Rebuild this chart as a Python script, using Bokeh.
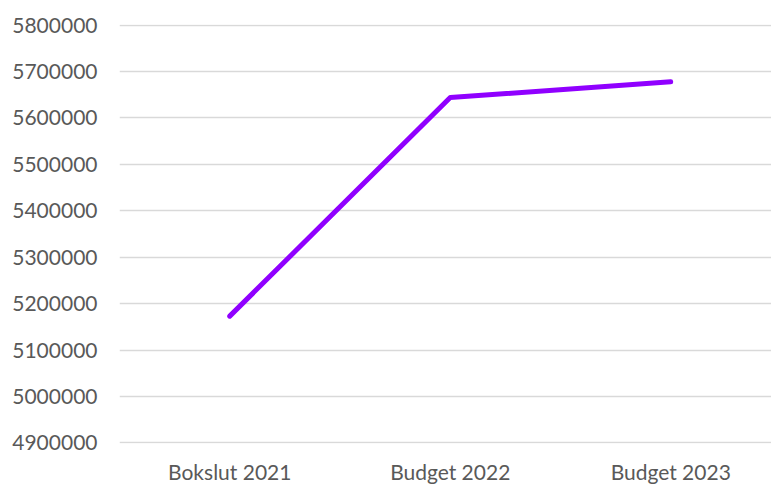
from bokeh.plotting import figure
from bokeh.models import Range1d, FixedTicker
from bokeh.embed import file_html
from bokeh.resources import INLINE

categories = ["Bokslut 2021", "Budget 2022", "Budget 2023"]
values = [5173000, 5644000, 5678000]
y_ticks = [4900000, 5000000, 5100000, 5200000, 5300000, 5400000, 5500000, 5600000, 5700000, 5800000]

xs = list(range(len(categories)))

p = figure(width=771, height=486, output_backend="svg", toolbar_location=None,
           x_range=Range1d(-0.5, 2.457), y_range=Range1d(4898500, 5801500),
           min_border_left=119, min_border_right=0, min_border_top=24, min_border_bottom=42)
p.outline_line_color = None
p.background_fill_color = "white"
p.border_fill_color = "white"

p.line(xs, values, line_color="#9000FF", line_width=5, line_cap="round", line_join="round")

p.xaxis.ticker = FixedTicker(ticks=xs)
p.xaxis.major_label_overrides = {i: c for i, c in enumerate(categories)}
p.yaxis.ticker = FixedTicker(ticks=y_ticks)
p.yaxis.formatter.use_scientific = False
for ax in (p.xaxis, p.yaxis):
    ax.axis_line_color = None
    ax.major_tick_line_color = None
    ax.minor_tick_line_color = None
    ax.major_label_text_font = "Lato"
    ax.major_label_text_font_size = "21px"
    ax.major_label_text_color = "#595959"
p.yaxis.major_label_standoff = 16
p.xaxis.major_label_standoff = 9

p.xgrid.grid_line_color = None
p.ygrid.grid_line_color = "#d9d9d9"
p.ygrid.grid_line_width = 1.5
p.ygrid.ticker = FixedTicker(ticks=y_ticks)

open("out.html", "w").write(file_html(p, INLINE))
